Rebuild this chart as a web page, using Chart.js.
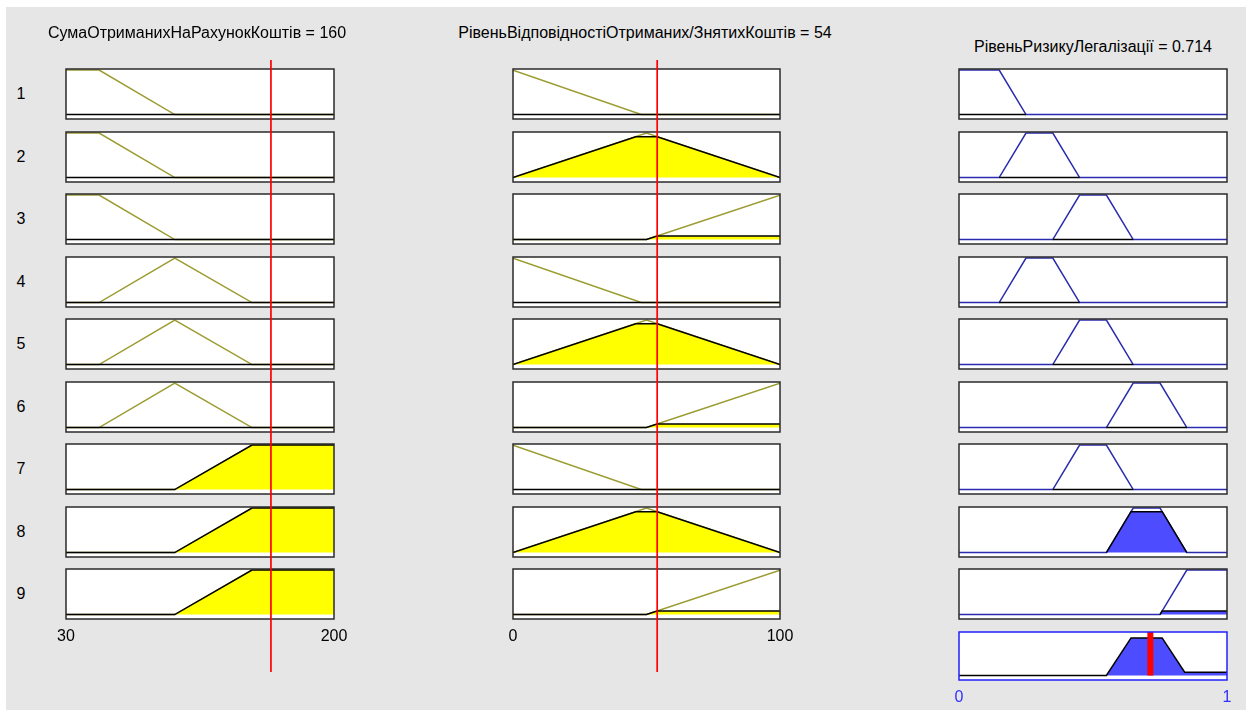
<!DOCTYPE html>
<html><head><meta charset="utf-8">
<script src="https://cdn.jsdelivr.net/npm/chart.js@4.4.1/dist/chart.umd.min.js"></script>
<style>
html,body{margin:0;padding:0;background:#fff;width:1252px;height:710px;overflow:hidden;font-family:"Liberation Sans",Arial,sans-serif;}
#bg{position:absolute;left:6px;top:7px;width:1240px;height:703px;background:#e6e6e6;}
canvas{position:absolute;}
.t{position:absolute;font-size:16px;line-height:18px;color:#000;white-space:nowrap;transform:translateX(-50%);}
</style></head><body>
<div id="bg"></div>
<script>
// ---------- data ----------
const inputNames = ['СумаОтриманихНаРахунокКоштів', 'РівеньВідповідностіОтриманих/ЗнятихКоштів'];
const outputName = 'РівеньРизикуЛегалізації';
const inputValues = [160, 54];
const outputValue = 0.714;
const ruleLabels = ['1','2','3','4','5','6','7','8','9'];
const ticks1 = [30, 200];
const ticks2 = [0, 100];
const ticksOut = [0, 1];
// membership functions (x, degree)
const in1MF1 = [[30,1],[51,1],[99,0],[200,0]];
const in1MF2 = [[30,0],[51,0],[99,1],[148,0],[200,0]];
const in1MF3 = [[30,0],[99,0],[148,1],[200,1]];
const in2MF1 = [[0,1],[48,0],[100,0]];
const in2MF2 = [[0,0],[50,1],[100,0]];
const in2MF3 = [[0,0],[50,0],[100,1]];
const outMF1 = [[0,1],[0.15,1],[0.25,0],[1,0]];
const outMF2 = [[0,0],[0.15,0],[0.25,1],[0.35,1],[0.45,0],[1,0]];
const outMF3 = [[0,0],[0.35,0],[0.45,1],[0.55,1],[0.65,0],[1,0]];
const outMF4 = [[0,0],[0.55,0],[0.65,1],[0.75,1],[0.85,0],[1,0]];
const outMF5 = [[0,0],[0.75,0],[0.85,1],[1,1]];
// fired areas of the inputs
const in1Fill1 = [[30,0],[200,0]];
const in1Fill2 = [[30,0],[200,0]];
const in1Fill3 = [[30,0],[99,0],[148,1],[200,1]];
const in2Fill1 = [[0,0],[100,0]];
const in2Fill2 = [[0,0],[46,0.92],[54,0.92],[100,0]];
const in2Fill3 = [[0,0],[50,0],[54,0.08],[100,0.08]];
// rule table
const ruleIn1 = [1,1,1,2,2,2,3,3,3];
const ruleIn2 = [1,2,3,1,2,3,1,2,3];
const ruleOut = [1,2,3,2,3,4,3,4,5];
// implied output areas per rule
const ruleFill1 = [[0,0],[0.25,0]];
const ruleFill2 = [[0.15,0],[0.45,0]];
const ruleFill3 = [[0.35,0],[0.65,0]];
const ruleFill4 = [[0.15,0],[0.45,0]];
const ruleFill5 = [[0.35,0],[0.65,0]];
const ruleFill6 = [[0.55,0],[0.85,0]];
const ruleFill7 = [[0.35,0],[0.65,0]];
const ruleFill8 = [[0.55,0],[0.642,0.92],[0.758,0.92],[0.85,0]];
const ruleFill9 = [[0.75,0],[0.758,0.08],[1,0.08]];
// aggregated output
const aggFill = [[0,0],[0.55,0],[0.642,0.92],[0.758,0.92],[0.842,0.08],[1,0.08]];

// ---------- drawing ----------
const in1MFs = [in1MF1, in1MF2, in1MF3];
const in2MFs = [in2MF1, in2MF2, in2MF3];
const outMFs = [outMF1, outMF2, outMF3, outMF4, outMF5];
const in1Fills = [in1Fill1, in1Fill2, in1Fill3];
const in2Fills = [in2Fill1, in2Fill2, in2Fill3];
const ruleFills = [ruleFill1, ruleFill2, ruleFill3, ruleFill4, ruleFill5, ruleFill6, ruleFill7, ruleFill8, ruleFill9];

const FONT = '"Liberation Sans", Arial, sans-serif';
const PX = 24, PY = 3, AXH = 30;
const colX = [66, 513, 959];
const colW = [268, 267, 268];
const ranges = [ticks1, ticks2, ticksOut];
const rowTop = i => Math.round(69.3 + 62.5 * i);
const BOXH = 50;
const OLIVE = '#9b9b30', NAVY = '#2b2bb0', YEL = '#ffff00', BLUE = '#4d4dff';
const pts = a => a.map(p => ({x: p[0], y: p[1]}));

function boxPlugin(color) {
  return {
    id: 'box',
    beforeDraw(c) { const a = c.chartArea, x = c.ctx; x.save(); x.fillStyle = '#fff'; x.fillRect(a.left, a.top, a.width, a.height); x.restore(); },
    afterDraw(c) { const a = c.chartArea, x = c.ctx; x.save(); x.strokeStyle = color; x.lineWidth = 1.5; x.strokeRect(a.left, a.top, a.width, a.height); x.restore(); }
  };
}

function makeChart(cfg) {
  const cv = document.createElement('canvas');
  const axisH = cfg.ticks ? AXH : 0;
  const W = cfg.w + 2 * PX, H = cfg.h + 2 * PY + axisH;
  cv.width = W; cv.height = H;
  cv.style.left = (cfg.x - PX) + 'px'; cv.style.top = (cfg.y - PY) + 'px';
  cv.style.width = W + 'px'; cv.style.height = H + 'px';
  document.body.appendChild(cv);
  const xScale = {type: 'linear', min: cfg.range[0], max: cfg.range[1], display: false};
  if (cfg.ticks) {
    Object.assign(xScale, {
      display: true,
      grid: {display: false, drawTicks: false},
      border: {display: false},
      afterBuildTicks: s => { s.ticks = cfg.ticks.map(v => ({value: v})); },
      afterFit: s => { s.height = AXH; },
      ticks: {color: cfg.tickColor, font: {size: 16, family: FONT}, padding: 8, maxRotation: 0, autoSkip: false}
    });
  }
  new Chart(cv, {
    type: 'line',
    data: {datasets: cfg.datasets},
    options: {
      animation: false, responsive: false, events: [],
      layout: {padding: {left: PX, right: PX, top: PY, bottom: PY}},
      plugins: {legend: {display: false}, tooltip: {enabled: false}},
      elements: {point: {radius: 0}, line: {tension: 0}},
      scales: {x: xScale, y: {min: cfg.ymin, max: cfg.ymax, display: false}}
    },
    plugins: cfg.noBox ? [] : [boxPlugin(cfg.border || '#2b2b2b')]
  });
}

const YMIN = -0.1, YMAX = 1.025;
for (let r = 0; r < 9; r++) {
  const last = r === 8;
  // input 1
  makeChart({x: colX[0], y: rowTop(r), w: colW[0], h: BOXH, range: ticks1, ymin: YMIN, ymax: YMAX,
    ticks: last ? ticks1 : null, tickColor: '#000',
    datasets: [
      {data: pts(in1MFs[ruleIn1[r] - 1]), borderColor: OLIVE, borderWidth: 1.5, fill: false, order: 1},
      {data: pts(in1Fills[ruleIn1[r] - 1]), borderColor: '#000', borderWidth: 1.5, backgroundColor: YEL, fill: 'origin', order: 0}
    ]});
  // input 2
  makeChart({x: colX[1], y: rowTop(r), w: colW[1], h: BOXH, range: ticks2, ymin: YMIN, ymax: YMAX,
    ticks: last ? ticks2 : null, tickColor: '#000',
    datasets: [
      {data: pts(in2MFs[ruleIn2[r] - 1]), borderColor: OLIVE, borderWidth: 1.5, fill: false, order: 1},
      {data: pts(in2Fills[ruleIn2[r] - 1]), borderColor: '#000', borderWidth: 1.5, backgroundColor: YEL, fill: 'origin', order: 0}
    ]});
  // output
  makeChart({x: colX[2], y: rowTop(r), w: colW[2], h: BOXH, range: ticksOut, ymin: YMIN, ymax: YMAX,
    datasets: [
      {data: pts(outMFs[ruleOut[r] - 1]), borderColor: NAVY, borderWidth: 1.5, fill: false, order: 1},
      {data: pts(ruleFills[r]), borderColor: '#000', borderWidth: 1.5, backgroundColor: BLUE, fill: 'origin', order: 0}
    ]});
}
// aggregated output
const AGG_MIN = -0.11, AGG_MAX = 1.065;
makeChart({x: colX[2], y: 632, w: colW[2], h: 48, range: ticksOut, ymin: AGG_MIN, ymax: AGG_MAX,
  ticks: ticksOut, tickColor: '#3030ff', border: '#2020ff',
  datasets: [
    {data: pts(aggFill), borderColor: '#000', borderWidth: 1.5, backgroundColor: BLUE, fill: 'origin', order: 1},
    {data: [{x: outputValue, y: 0}, {x: outputValue, y: AGG_MAX}], borderColor: '#ff0000', borderWidth: 6, fill: false, order: 0}
  ]});
// red input lines across columns
[0, 1].forEach(c => {
  makeChart({x: colX[c], y: 57 + PY, w: colW[c], h: 618 - 2 * PY, range: ranges[c], ymin: 0, ymax: 1, noBox: true,
    datasets: [{data: [{x: inputValues[c], y: 0}, {x: inputValues[c], y: 1}], borderColor: '#ff0000', borderWidth: 1.7, fill: false}]});
});
// titles & rule numbers
function label(text, cx, cy, color) {
  const d = document.createElement('div');
  d.className = 't'; d.textContent = text;
  d.style.left = cx + 'px'; d.style.top = (cy - 9) + 'px';
  if (color) d.style.color = color;
  document.body.appendChild(d);
}
label(inputNames[0] + ' = ' + inputValues[0], 197, 33);
label(inputNames[1] + ' = ' + inputValues[1], 645, 33);
label(outputName + ' = ' + outputValue, 1093, 47);
ruleLabels.forEach((t, i) => label(t, 21, rowTop(i) + BOXH / 2));
</script>
</body></html>
